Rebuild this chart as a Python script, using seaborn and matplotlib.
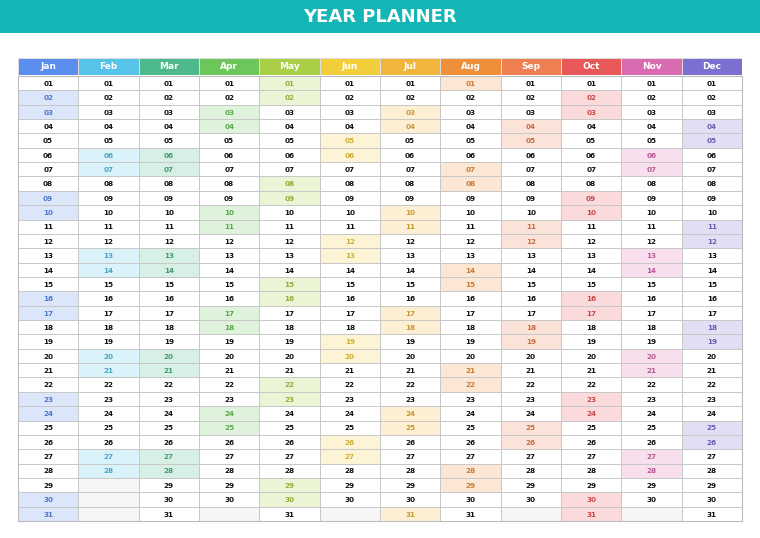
import matplotlib
matplotlib.use("Agg")
import matplotlib.pyplot as plt
import matplotlib.colors as mc
import numpy as np
import seaborn as sns

months = ["Jan","Feb","Mar","Apr","May","Jun","Jul","Aug","Sep","Oct","Nov","Dec"]
days_in_month = [31,28,31,30,31,30,31,31,30,31,30,31]
weekend_days = [
    [2,3,9,10,16,17,23,24,30,31],
    [6,7,13,14,20,21,27,28],
    [6,7,13,14,20,21,27,28],
    [3,4,10,11,17,18,24,25],
    [1,2,8,9,15,16,22,23,29,30],
    [5,6,12,13,19,20,26,27],
    [3,4,10,11,17,18,24,25,31],
    [1,7,8,14,15,21,22,28,29],
    [4,5,11,12,18,19,25,26],
    [2,3,9,10,16,17,23,24,30,31],
    [6,7,13,14,20,21,27,28],
    [4,5,11,12,18,19,25,26],
]
header_colors = ["#5B8DEF","#57C3E8","#4DB88A","#6CC65A","#A8CF45","#F2CF3A",
                 "#F0B53A","#F08F3A","#EE7F50","#E85858","#D96CB0","#7B6FD0"]

def blend(c, a):
    r = np.array(mc.to_rgb(c))
    return tuple(1 - a * (1 - r))
def darken(c, f):
    return tuple(np.array(mc.to_rgb(c)) * f)

light = [blend(c, 0.22) for c in header_colors]
cmap = mc.ListedColormap(light + ["#FFFFFF", "#F6F6F6"])

body = np.full((31, 12), 12.0)
for m in range(12):
    for d in range(31):
        if d + 1 > days_in_month[m]:
            body[d, m] = 13
        elif d + 1 in weekend_days[m]:
            body[d, m] = m

fig = plt.figure(figsize=(7.6, 5.38), dpi=100)
# title band
tax = fig.add_axes([0, 1 - 33/538, 1, 33/538])
tax.set_facecolor("#13B5B5"); tax.set_xticks([]); tax.set_yticks([])
for s in tax.spines.values(): s.set_visible(False)
tax.text(0.5, 0.5, "YEAR PLANNER", color="white", fontsize=13, fontweight="bold",
         ha="center", va="center", transform=tax.transAxes)

L, R = 18/760, 742/760
hax = fig.add_axes([L, 1 - 75/538, R - L, 17/538])
sns.heatmap(np.arange(12).reshape(1, 12), cmap=mc.ListedColormap(header_colors), cbar=False,
            vmin=-0.5, vmax=11.5, linewidths=0.6, linecolor="#DDDDDD", ax=hax,
            xticklabels=False, yticklabels=False)
for m, name in enumerate(months):
    hax.text(m + 0.5, 0.5, name, ha="center", va="center", color="white", fontsize=6.5, fontweight="bold")

bax = fig.add_axes([L, 1 - 521/538, R - L, 445/538])
sns.heatmap(body, cmap=cmap, vmin=-0.5, vmax=13.5, cbar=False, linewidths=0.6,
            linecolor="#C8C8C8", ax=bax, xticklabels=False, yticklabels=False)
for m in range(12):
    for d in range(days_in_month[m]):
        col = darken(header_colors[m], 0.85) if d + 1 in weekend_days[m] else "#111111"
        bax.text(m + 0.5, d + 0.55, f"{d+1:02d}", ha="center", va="center", fontsize=5.2,
                 fontweight="bold", color=col)
for s in bax.spines.values():
    s.set_visible(True); s.set_color("#BBBBBB"); s.set_linewidth(0.8)
fig.savefig("out.png", dpi=100, facecolor="white")
